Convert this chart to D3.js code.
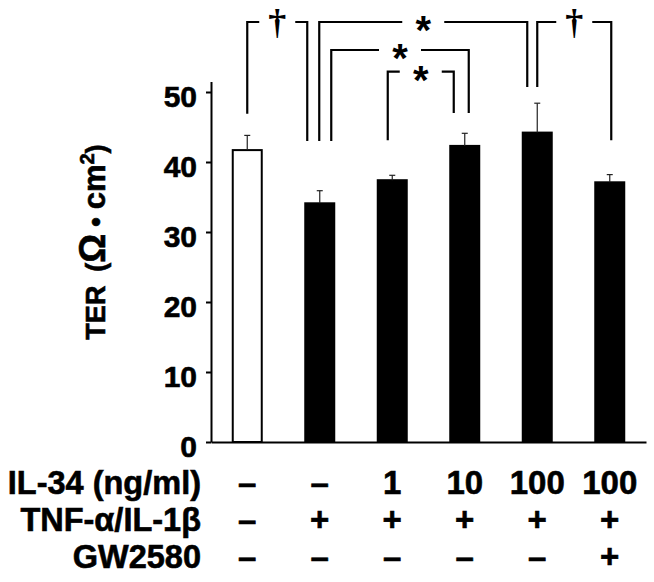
<!DOCTYPE html>
<html>
<head>
<meta charset="utf-8">
<script src="https://cdn.jsdelivr.net/npm/d3@7"></script>
<style>
  body { margin: 0; background: #fff; }
  svg text { font-family: "Liberation Sans", Arial, sans-serif; font-weight: bold; fill: #000; }
  svg text.heavy { stroke: #000; stroke-width: 0.6px; }
</style>
</head>
<body>
<div class="chart"></div>
<script>
// groups (one per bar)
var groups = [0, 1, 2, 3, 4, 5];
var il34Labels = ["\u2013", "\u2013", "1", "10", "100", "100"];
var tnfLabels = ["\u2013", "+", "+", "+", "+", "+"];
var gwLabels = ["\u2013", "\u2013", "\u2013", "\u2013", "\u2013", "+"];
var rowTitles = ["IL-34 (ng/ml)", "TNF-\u03b1/IL-1\u03b2", "GW2580"];

// TER means and SD
var terMeans = [41.7, 34.1, 37.4, 42.3, 44.2, 37.1];
var terErrors = [2.1, 1.8, 0.7, 1.8, 4.2, 1.1];
var yTicks = [0, 10, 20, 30, 40, 50];

// significance brackets: from, to, label, top level, end of left leg, end of right leg (TER units)
var bracketFrom = [0, 1, 1, 2, 4];
var bracketTo = [1, 4, 3, 3, 5];
var bracketLabels = ["\u2020", "*", "*", "*", "\u2020"];
var bracketLevels = [60, 60, 56, 52.9, 60];
var bracketFromEnds = [46.9, 43, 43, 43.1, 50.7];
var bracketToEnds = [43, 50.7, 47, 47, 43.1];

var width = 654;
var height = 582;

var svg = d3.select(".chart")
    .append("svg")
    .attr("width", width)
    .attr("height", height);

var x = d3.scaleBand()
    .domain(groups)
    .range([211, 646])
    .paddingInner(0.6)
    .paddingOuter(0.3);

var y = d3.scaleLinear()
    .domain([0, 51.5])
    .range([442, 81.5]);

var cx = function(i) { return x(i) + x.bandwidth() / 2; };

//////// bars
svg.selectAll("rect.bar")
    .data(terMeans)
    .enter()
    .append("rect")
    .attr("class", "bar")
    .attr("x", function(d, i) { return x(i); })
    .attr("y", function(d) { return y(d); })
    .attr("width", x.bandwidth())
    .attr("height", function(d) { return y(0) - y(d); })
    .attr("fill", function(d, i) { return tnfLabels[i] === "+" ? "#000" : "#fff"; })
    .attr("stroke", "#000")
    .attr("stroke-width", 2);

//////// error bars (upper only)
var err = svg.selectAll("g.err")
    .data(terMeans)
    .enter()
    .append("g")
    .attr("class", "err")
    .attr("stroke", "#222")
    .attr("stroke-width", 1.2);

err.append("line")
    .attr("x1", function(d, i) { return cx(i); })
    .attr("x2", function(d, i) { return cx(i); })
    .attr("y1", function(d) { return y(d); })
    .attr("y2", function(d, i) { return y(d + terErrors[i]); });

err.append("line")
    .attr("x1", function(d, i) { return cx(i) - 3; })
    .attr("x2", function(d, i) { return cx(i) + 3; })
    .attr("y1", function(d, i) { return y(d + terErrors[i]); })
    .attr("y2", function(d, i) { return y(d + terErrors[i]); });

//////// axes
var yAxis = svg.append("g")
    .attr("transform", "translate(211,0)")
    .call(d3.axisLeft(y).tickValues(yTicks).tickSize(5).tickSizeOuter(0).tickPadding(9));

yAxis.selectAll("path, line").attr("stroke", "#000").attr("stroke-width", 2);
yAxis.selectAll("text")
    .attr("class", "heavy")
    .attr("font-size", "30px")
    .attr("dy", "0.47em")
    .style("font-family", "'Liberation Sans', Arial, sans-serif")
    .style("font-weight", "bold");

var xAxis = svg.append("g")
    .attr("transform", "translate(0," + y(0) + ")")
    .call(d3.axisBottom(x).tickSize(0).tickFormat(""));
xAxis.select("path").attr("stroke", "#000").attr("stroke-width", 2);

// y axis title
var title = svg.append("text")
    .attr("class", "heavy")
    .attr("transform", "translate(105,242) rotate(-90)")
    .attr("text-anchor", "middle")
    .attr("font-size", "27px");
title.append("tspan").text("TER");
title.append("tspan").attr("dx", 14).text("(");
title.append("tspan").attr("font-size", "36px").text("\u03a9");
title.append("tspan").attr("dx", 7).text("\u2022");
title.append("tspan").attr("dx", 8).attr("font-size", "31px").text("cm");
title.append("tspan").attr("font-size", "20px").attr("dy", "-11").text("2");
title.append("tspan").attr("dy", "11").text(")");

//////// treatment table
var rows = [il34Labels, tnfLabels, gwLabels];
var rowBaselines = [494, 531, 568];

rows.forEach(function(row, r) {
    svg.append("text")
        .attr("class", "heavy")
        .attr("x", 201)
        .attr("y", rowBaselines[r])
        .attr("text-anchor", "end")
        .attr("font-size", "32.5px")
        .text(rowTitles[r]);

    svg.selectAll("text.cell" + r)
        .data(row)
        .enter()
        .append("text")
        .attr("class", "heavy cell" + r)
        .attr("x", function(d, i) { return cx(i); })
        .attr("y", rowBaselines[r])
        .attr("text-anchor", "middle")
        .attr("font-size", "33px")
        .text(function(d) { return d; });
});

//////// significance brackets
// small horizontal shifts so legs sharing a bar do not overlap (px)
var fromNudge = [0, -0.5, 11.5, -4.5, 0];
var toNudge = [-12.5, -10, 4, -11, 1.5];

bracketLabels.forEach(function(label, k) {
    var x1 = cx(bracketFrom[k]) + fromNudge[k];
    var x2 = cx(bracketTo[k]) + toNudge[k];
    var top = y(bracketLevels[k]);
    var mid = (x1 + x2) / 2;
    var gap = label === "*" ? 21 : 18;

    var bracketPath = "M " + x1 + " " + y(bracketFromEnds[k]) + " L " + x1 + " " + top + " L " + (mid - gap) + " " + top +
        " M " + (mid + gap) + " " + top + " L " + x2 + " " + top + " L " + x2 + " " + y(bracketToEnds[k]);

    svg.append("path")
        .attr("d", bracketPath)
        .attr("fill", "none")
        .attr("stroke", "#000")
        .attr("stroke-width", 2.2);

    if (label === "*") {
        svg.append("text")
            .attr("x", mid)
            .attr("y", top + 22)
            .attr("text-anchor", "middle")
            .attr("font-size", "40px")
            .text(label);
    } else {
        svg.append("text")
            .attr("x", mid)
            .attr("y", top + 12)
            .attr("text-anchor", "middle")
            .attr("font-size", "36px")
            .style("font-family", "'Liberation Serif', serif")
            .style("font-weight", "bold")
            .text(label);
    }
});
</script>
</body>
</html>
